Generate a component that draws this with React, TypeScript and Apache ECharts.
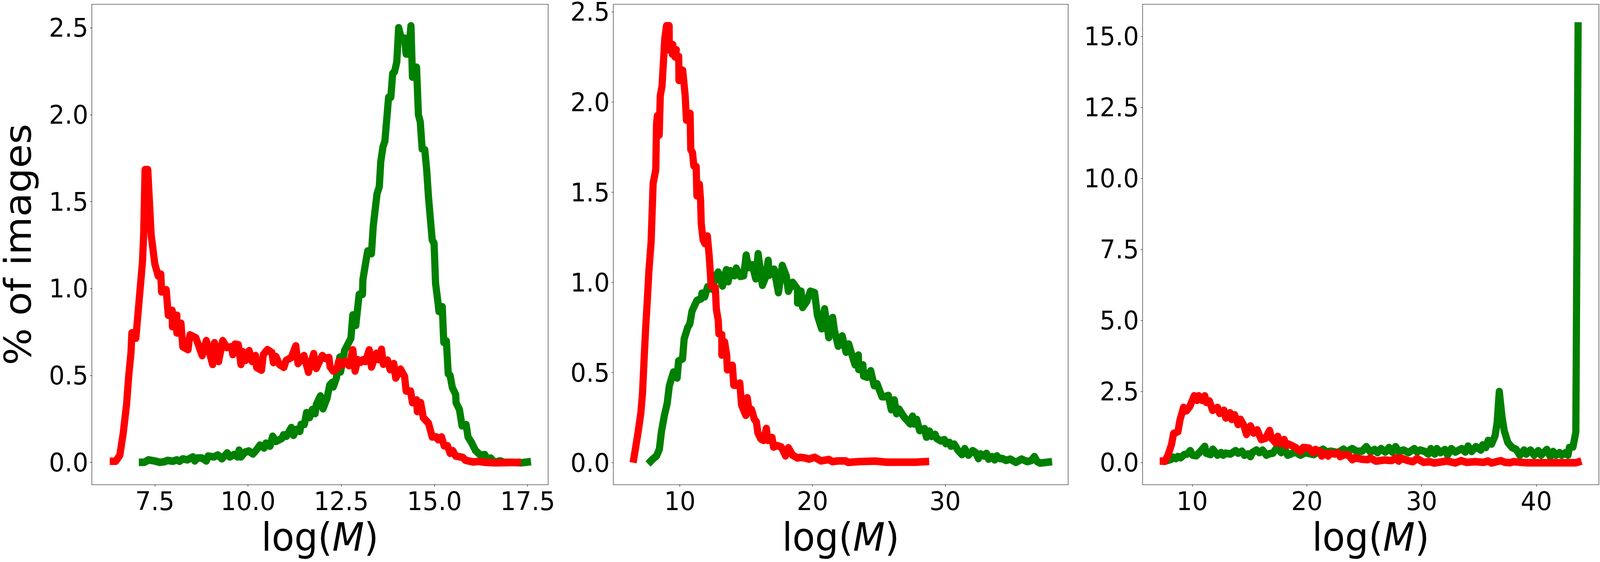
import React, { useEffect, useRef } from "react";
import * as echarts from "echarts";

const p1Green = [[7.07,0],[7.22,0],[7.33,.014],[7.49,.008],[7.63,0],[7.75,.003],[7.84,.011],[7.98,.006],[8.09,.014],[8.16,.006],[8.25,.02],[8.37,.014],[8.52,.031],[8.57,.008],[8.64,.025],[8.76,.025],[8.88,.008],[8.93,.036],[9.08,.031],[9.19,.042],[9.3,.02],[9.44,.054],[9.51,.031],[9.63,.045],[9.72,.031],[9.76,.07],[9.81,.031],[9.92,.059],[10.02,.065],[10.13,.048],[10.22,.07],[10.32,.099],[10.43,.082],[10.48,.11],[10.59,.093],[10.66,.15],[10.75,.12],[10.91,.138],[10.95,.158],[11.03,.15],[11.16,.2],[11.22,.155],[11.3,.19],[11.39,.178],[11.42,.218],[11.51,.218],[11.57,.286],[11.65,.257],[11.72,.303],[11.8,.28],[11.83,.331],[11.94,.382],[12.01,.308],[12.12,.37],[12.19,.444],[12.26,.46],[12.285,.434],[12.37,.485],[12.46,.605],[12.48,.52],[12.59,.643],[12.76,.714],[12.81,.848],[12.89,.788],[12.98,.966],[13.07,.966],[13.08,1.05],[13.18,1.18],[13.21,1.216],[13.31,1.2],[13.36,1.363],[13.46,1.545],[13.52,1.585],[13.56,1.73],[13.62,1.816],[13.67,1.847],[13.73,1.998],[13.77,2.1],[13.83,2.1],[13.88,2.238],[13.93,2.247],[13.99,2.304],[14.04,2.5],[14.12,2.43],[14.2,2.44],[14.24,2.349],[14.3,2.349],[14.37,2.511],[14.41,2.216],[14.45,2.216],[14.47,2.273],[14.52,2.273],[14.57,2],[14.62,1.958],[14.67,1.803],[14.74,1.798],[14.79,1.687],[14.84,1.527],[14.94,1.279],[14.99,1.26],[15.03,1.03],[15.1,.91],[15.12,.868],[15.21,.895],[15.25,.69],[15.32,.698],[15.37,.509],[15.42,.5],[15.48,.43],[15.57,.39],[15.58,.343],[15.67,.304],[15.74,.21],[15.85,.217],[15.9,.146],[15.99,.115],[16.1,.068],[16.24,.04],[16.35,.044],[16.42,.016],[16.51,.024],[16.61,0],[16.77,.008],[16.86,0],[17.07,0],[17.32,-.003],[17.59,.004]];

const p1Red = [[6.29,.006],[6.45,.006],[6.56,.04],[6.65,.165],[6.74,.33],[6.8,.5],[6.86,.63],[6.884,.745],[6.99,.714],[7.167,1.15],[7.2,1.31],[7.238,1.684],[7.31,1.684],[7.4,1.31],[7.5,1.14],[7.59,1.072],[7.66,1.083],[7.68,.98],[7.805,.993],[7.86,.846],[7.965,.874],[7.97,.78],[8.09,.846],[8.09,.744],[8.2,.8],[8.25,.665],[8.39,.648],[8.44,.733],[8.6,.716],[8.77,.614],[8.88,.7],[9.05,.563],[9.1,.688],[9.21,.58],[9.32,.7],[9.43,.66],[9.56,.665],[9.59,.62],[9.65,.68],[9.74,.676],[9.81,.563],[9.86,.636],[9.93,.586],[10.03,.642],[10.11,.58],[10.2,.614],[10.23,.546],[10.36,.53],[10.41,.62],[10.52,.648],[10.64,.631],[10.68,.574],[10.75,.608],[10.84,.563],[10.96,.546],[11.02,.586],[11.16,.603],[11.28,.67],[11.34,.568],[11.5,.614],[11.62,.518],[11.76,.625],[11.83,.54],[11.99,.614],[12.08,.597],[12.17,.603],[12.2,.55],[12.285,.525],[12.39,.54],[12.43,.58],[12.53,.56],[12.6,.58],[12.71,.556],[12.81,.647],[12.87,.525],[12.94,.59],[13.03,.576],[13.08,.59],[13.15,.58],[13.25,.647],[13.31,.548],[13.44,.627],[13.51,.59],[13.58,.65],[13.63,.564],[13.74,.588],[13.81,.533],[13.91,.568],[13.96,.485],[14.09,.536],[14.2,.493],[14.24,.41],[14.36,.41],[14.41,.343],[14.52,.359],[14.54,.292],[14.63,.343],[14.7,.257],[14.84,.225],[14.94,.146],[15.05,.146],[15.1,.13],[15.19,.146],[15.26,.095],[15.35,.095],[15.42,.052],[15.49,.067],[15.57,.036],[15.76,.028],[15.83,.012],[16.04,.002],[16.19,.005],[16.36,0],[16.59,-.003],[16.82,-.002],[17.32,0]];

const p2Green = [[7.6,-.007],[7.92,.018],[8.24,.038],[8.45,.075],[8.61,.173],[8.83,.263],[9.04,.328],[9.2,.425],[9.36,.466],[9.52,.503],[9.79,.47],[9.9,.564],[10.2,.576],[10.32,.686],[10.59,.75],[10.75,.77],[10.91,.84],[11.12,.874],[11.29,.9],[11.61,.91],[11.66,.94],[11.87,.92],[12.09,.976],[12.41,.963],[12.73,1.037],[12.89,1.057],[13.21,.98],[13.5,1.07],[13.64,1.004],[13.8,1.065],[14.1,1.037],[14.25,1.079],[14.55,1.033],[14.81,1.037],[15,1.151],[15.17,1.082],[15.45,1.098],[15.72,1.02],[15.9,1.159],[16.22,.984],[16.47,1.03],[16.66,1.122],[16.74,1.04],[17.11,1.073],[17.43,.943],[17.72,1.094],[18.02,1.037],[18.18,.951],[18.5,1],[18.87,.963],[18.87,.886],[19.14,.951],[19.25,.861],[19.57,.894],[19.84,.951],[20.16,.943],[20.37,.817],[20.69,.743],[20.91,.853],[21.23,.694],[21.52,.805],[21.65,.735],[21.94,.646],[22.24,.703],[22.53,.613],[22.73,.658],[23.1,.568],[23.21,.543],[23.46,.597],[23.48,.517],[23.8,.543],[23.85,.481],[24.12,.474],[24.39,.51],[24.65,.427],[24.87,.438],[25.24,.366],[25.46,.366],[25.72,.373],[25.94,.294],[26.17,.348],[26.34,.272],[26.53,.297],[26.9,.254],[27.38,.215],[27.54,.258],[27.65,.215],[27.86,.24],[28.08,.178],[28.45,.189],[28.59,.142],[28.82,.175],[28.98,.146],[29.25,.157],[29.36,.135],[29.68,.121],[29.95,.128],[30.05,.106],[30.32,.113],[30.43,.092],[30.69,.103],[30.96,.07],[31.28,.045],[31.48,.078],[31.76,.042],[32.08,.067],[32.3,.056],[32.51,.023],[32.67,.049],[32.94,.038],[33.12,.052],[33.28,.02],[33.53,.034],[33.74,.016],[33.9,.038],[34.12,.023],[34.33,.023],[34.6,.013],[34.92,.02],[35.34,.002],[35.77,.02],[36.2,.006],[36.52,.013],[36.73,.034],[36.95,.006],[37.16,-.002],[38.07,.006]];

const p2Red = [[6.47,0],[6.66,.083],[6.87,.18],[7.06,.279],[7.18,.385],[7.3,.572],[7.41,.735],[7.54,.898],[7.66,1.06],[7.83,1.224],[7.98,1.548],[8.18,1.625],[8.24,1.88],[8.3,1.924],[8.44,1.817],[8.52,2.035],[8.65,2.087],[8.74,2.198],[8.86,2.352],[8.99,2.423],[9.19,2.423],[9.2,2.288],[9.47,2.318],[9.42,2.266],[9.73,2.29],[9.63,2.25],[9.91,2.253],[9.93,2.12],[10.21,2.176],[10.4,2.035],[10.49,1.9],[10.77,1.937],[10.82,1.736],[10.95,1.72],[11.05,1.646],[11.23,1.642],[11.28,1.48],[11.47,1.544],[11.56,1.454],[11.61,1.326],[11.75,1.236],[11.89,1.215],[12.07,1.257],[12.21,1.146],[12.3,1.049],[12.35,.98],[12.67,.972],[12.75,.85],[12.89,.79],[12.94,.715],[13.16,.71],[13.16,.597],[13.37,.67],[13.53,.597],[13.58,.515],[13.96,.54],[14.06,.43],[14.28,.43],[14.52,.442],[14.65,.32],[14.97,.263],[15.08,.36],[15.19,.303],[15.4,.295],[15.61,.242],[15.77,.226],[15.88,.165],[16.1,.132],[16.31,.124],[16.52,.19],[16.63,.124],[16.95,.14],[17.06,.087],[17.33,.095],[17.65,.087],[17.97,.038],[18.18,.083],[18.5,.042],[18.87,.026],[19.09,.03],[19.46,.026],[19.73,.02],[20.16,.03],[20.64,.01],[21.23,.018],[21.5,.006],[21.87,.01],[22.51,.01],[22.67,.002],[23.48,.006],[24.71,.009],[25.6,.003],[27.75,.003],[28.8,.007]];

const p3Green = [[7.46,.03],[7.89,.08],[8.2,.12],[8.32,.19],[8.57,.14],[8.75,.21],[9,.17],[9.31,.28],[9.56,.3],[9.83,.42],[10.05,.26],[10.36,.24],[10.67,.37],[11.1,.57],[11.23,.33],[11.6,.28],[11.8,.47],[12.21,.26],[12.52,.35],[12.71,.26],[12.89,.33],[13.33,.3],[13.79,.42],[14,.33],[14.34,.4],[14.56,.26],[14.87,.3],[15.08,.21],[15.24,.35],[15.61,.44],[15.86,.35],[16.14,.44],[16.47,.26],[16.72,.31],[17.03,.33],[17.4,.53],[17.77,.35],[18.08,.47],[18.33,.26],[19,.37],[19.44,.26],[19.87,.35],[20.6,.28],[21.41,.47],[21.72,.37],[22.09,.4],[22.7,.35],[23.2,.47],[23.45,.37],[23.95,.49],[24.32,.4],[24.81,.4],[25.18,.56],[25.53,.37],[25.9,.46],[26.15,.35],[26.46,.49],[26.83,.37],[27.16,.53],[27.44,.37],[27.73,.56],[28,.39],[28.43,.44],[28.86,.35],[29.36,.49],[29.6,.37],[29.88,.44],[30.28,.39],[30.59,.3],[30.8,.49],[31.15,.3],[31.33,.49],[31.64,.35],[32.04,.46],[32.26,.26],[32.59,.49],[32.94,.37],[33.5,.49],[33.8,.37],[34.05,.58],[34.36,.39],[34.73,.56],[35.16,.44],[35.31,.62],[35.6,.53],[35.8,.78],[36.09,.65],[36.4,.94],[36.58,1.4],[36.77,2.5],[37,1.63],[37.2,1.12],[37.51,.71],[37.88,.53],[38.25,.46],[38.56,.26],[38.93,.44],[39.11,.3],[39.49,.44],[39.8,.26],[40.17,.42],[40.41,.26],[40.91,.46],[41.21,.21],[41.46,.39],[41.71,.26],[42.02,.35],[42.2,.26],[42.57,.35],[42.76,.26],[42.88,.53],[43.19,.55],[43.44,1.07],[43.64,15.5]];

const p3Red = [[7.17,.05],[7.64,.05],[7.89,.26],[8.2,.63],[8.38,1.02],[8.76,1.09],[8.94,1.5],[9.25,1.94],[9.5,1.82],[9.8,1.98],[10.18,2.35],[10.42,2.19],[10.57,2.35],[10.86,2.19],[11.1,2.35],[11.23,2.12],[11.5,2.17],[11.78,1.84],[12.21,1.94],[12.4,1.73],[12.77,1.84],[12.93,1.57],[13.3,1.75],[13.45,1.52],[13.7,1.68],[14,1.34],[14.21,1.52],[14.5,1.31],[14.74,.99],[15.08,1.29],[15.36,1.04],[15.67,1.15],[16.02,.81],[16.41,.86],[16.75,1.13],[16.91,.86],[17.28,.69],[17.46,.92],[17.71,.67],[18.02,.81],[18.2,.6],[18.39,.65],[18.76,.58],[19,.53],[19.44,.39],[19.68,.53],[20.18,.51],[20.55,.35],[20.74,.46],[21.17,.39],[21.29,.23],[21.6,.33],[21.85,.23],[22.09,.33],[22.46,.3],[22.7,.35],[22.9,.21],[23.27,.28],[23.64,.26],[23.95,.1],[24.19,.17],[24.75,.12],[25.3,.1],[25.53,.16],[26.02,.05],[26.77,.09],[27.38,.07],[27.75,.16],[28,.05],[28.18,.16],[28.8,.07],[29.23,.03],[29.6,.14],[30.16,.01],[30.72,.03],[31.09,-.015],[32.2,.054],[32.94,-.015],[33.43,.067],[33.93,.008],[34.67,.03],[35.41,.008],[35.78,.054],[36.09,-.015],[36.89,.067],[37.26,.008],[37.69,-.006],[38,.03],[39.11,-.006],[40.35,-.006],[41.58,-.006],[43.44,-.006],[43.93,.054]];

const p1XTicks = [7.5, 10, 12.5, 15, 17.5];
const p2XTicks = [10, 20, 30];
const p3XTicks = [10, 20, 30, 40];
const p1YTicks = [0, 0.5, 1, 1.5, 2, 2.5];
const p2YTicks = [0, 0.5, 1, 1.5, 2, 2.5];
const p3YTicks = [0, 2.5, 5, 7.5, 10, 12.5, 15];

const FONT = "DejaVu Sans";
const TICK_SIZE = 66.7;
const LINE_W = 19.44;
const GREEN = "#008000";
const RED = "#ff0000";
const DESIGN_W = 4320;

const panels = [
  { left: 248, right: 1480, xMin: 5.81, xMax: 18.05, yMin: -0.129, yMax: 2.635, xt: p1XTicks, yt: p1YTicks, xDec: 1, green: p1Green, red: p1Red, yName: "% of images" },
  { left: 1656, right: 2884, xMin: 4.98, xMax: 39.28, yMin: -0.122, yMax: 2.542, xt: p2XTicks, yt: p2YTicks, xDec: 0, green: p2Green, red: p2Red, yName: "" },
  { left: 3085, right: 4317, xMin: 5.68, xMax: 45.45, yMin: -0.78, yMax: 16.13, xt: p3XTicks, yt: p3YTicks, xDec: 0, green: p3Green, red: p3Red, yName: "" },
];

export default function App() {
  const ref = useRef<HTMLDivElement>(null);
  useEffect(() => {
    document.body.style.margin = "0";
    document.documentElement.style.overflow = "hidden";
    document.body.style.overflow = "hidden";
    const chart = echarts.init(ref.current!, null, { renderer: "svg" });
    const top = 11;
    const height = 1231;
    const option: any = {
      animation: false,
      backgroundColor: "#ffffff",
      grid: panels.map((p) => ({
        show: true,
        left: p.left,
        top,
        width: p.right - p.left,
        height,
        borderColor: "#000000",
        borderWidth: 1.1,
        backgroundColor: "transparent",
        containLabel: false,
        outerBoundsMode: "none",
      })),
      xAxis: panels.map((p, i) => ({
        type: "value",
        gridIndex: i,
        min: p.xMin,
        max: p.xMax,
        splitLine: { show: false },
        axisLine: { show: false, onZero: false },
        axisTick: { show: true, length: 4.9, customValues: p.xt, lineStyle: { color: "#000", width: 1.1 } },
        axisLabel: {
          show: true,
          customValues: p.xt,
          fontFamily: FONT,
          fontSize: TICK_SIZE,
          color: "#000",
          margin: 8,
          hideOverlap: false,
          formatter: (v: number) => v.toFixed(p.xDec),
        },
        name: "{a|log(}{b|M}{a|)}",
        nameLocation: "middle",
        nameGap: 85,
        nameTextStyle: {
          rich: {
            a: { fontFamily: FONT, fontSize: 100, color: "#000" },
            b: { fontFamily: FONT, fontStyle: "italic", fontSize: 100, color: "#000" },
          },
        },
      })),
      yAxis: panels.map((p, i) => ({
        type: "value",
        gridIndex: i,
        min: p.yMin,
        max: p.yMax,
        splitLine: { show: false },
        axisLine: { show: false, onZero: false },
        axisTick: { show: true, length: 4.9, customValues: p.yt, lineStyle: { color: "#000", width: 1.1 } },
        axisLabel: {
          show: true,
          customValues: p.yt,
          fontFamily: FONT,
          fontSize: TICK_SIZE,
          color: "#000",
          margin: 9.7,
          hideOverlap: false,
          formatter: (v: number) => v.toFixed(1),
        },
        name: p.yName,
        nameLocation: "middle",
        nameGap: 149,
        nameTextStyle: { fontFamily: FONT, fontSize: 100, color: "#000" },
      })),
      series: panels.flatMap((p, i) => [
        {
          type: "line",
          name: "green",
          xAxisIndex: i,
          yAxisIndex: i,
          data: p.green,
          showSymbol: false,
          smooth: false,
          lineStyle: { color: GREEN, width: LINE_W, cap: "butt", join: "round" },
          z: 2,
        },
        {
          type: "line",
          name: "red",
          xAxisIndex: i,
          yAxisIndex: i,
          data: p.red,
          showSymbol: false,
          smooth: false,
          lineStyle: { color: RED, width: LINE_W, cap: "butt", join: "round" },
          z: 3,
        },
      ]),
    };
    chart.setOption(option);
    return () => chart.dispose();
  }, []);
  const scaleX = Math.min(1, window.innerWidth / DESIGN_W);
  return (
    <div
      ref={ref}
      style={{
        position: "absolute",
        left: 0,
        top: 0,
        width: DESIGN_W,
        height: 1440,
        transform: `scaleX(${scaleX})`,
        transformOrigin: "0 0",
      }}
    />
  );
}
